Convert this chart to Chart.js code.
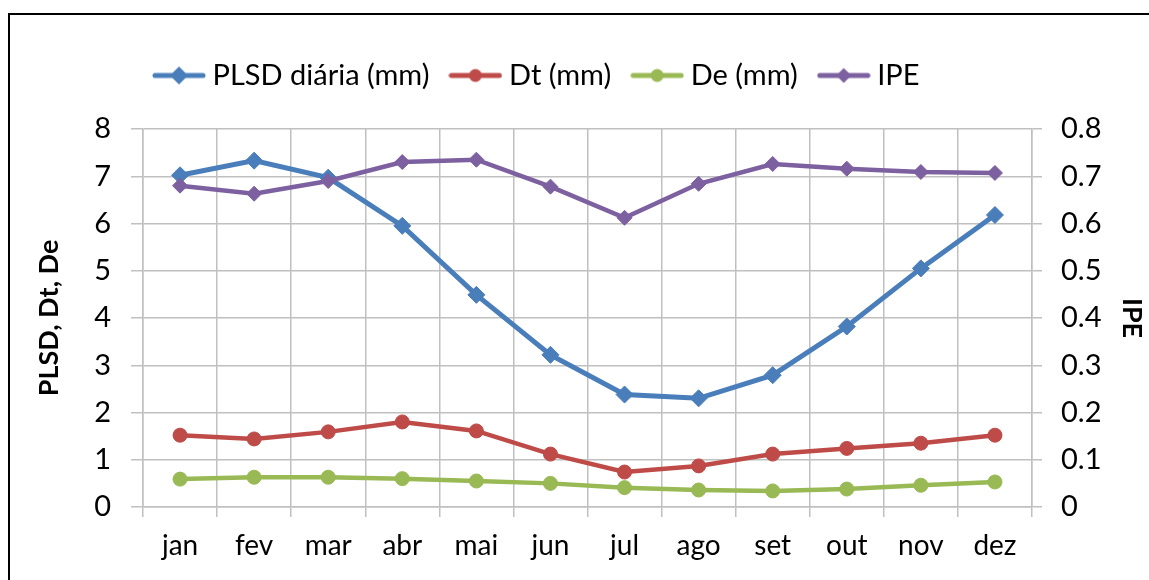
<!DOCTYPE html>
<html>
<head>
<meta charset="utf-8">
<script src="https://cdn.jsdelivr.net/npm/chart.js@4.4.1/dist/chart.umd.min.js"></script>
<style>
  html, body { margin: 0; padding: 0; background: #ffffff; }
  #wrap { width: 1149px; height: 580px; position: relative; }
</style>
</head>
<body>
<div id="wrap"><canvas id="c" width="1149" height="580"></canvas></div>
<script>
// Months on the category axis
const months = ['jan', 'fev', 'mar', 'abr', 'mai', 'jun', 'jul', 'ago', 'set', 'out', 'nov', 'dez'];

// Series (left axis, mm)
const plsd = [7.02, 7.33, 6.97, 5.95, 4.49, 3.22, 2.38, 2.30, 2.79, 3.82, 5.05, 6.18];
const dt   = [1.52, 1.44, 1.59, 1.80, 1.61, 1.12, 0.74, 0.87, 1.12, 1.24, 1.35, 1.52];
const de   = [0.59, 0.63, 0.63, 0.60, 0.55, 0.50, 0.41, 0.36, 0.34, 0.38, 0.46, 0.53];

// Series (right axis)
const ipe  = [0.680, 0.663, 0.690, 0.730, 0.735, 0.678, 0.612, 0.684, 0.726, 0.716, 0.709, 0.707];

// Tick values and labels
const leftTicks   = [0, 1, 2, 3, 4, 5, 6, 7, 8];
const leftLabels  = ['0', '1', '2', '3', '4', '5', '6', '7', '8'];
const rightTicks  = [0, 0.1, 0.2, 0.3, 0.4, 0.5, 0.6, 0.7, 0.8];
const rightLabels = ['0', '0.1', '0.2', '0.3', '0.4', '0.5', '0.6', '0.7', '0.8'];

const FONT = 'Lato';
const GRID = '#c0c0c0';
const COLORS = { blue: '#4a7ebb', red: '#be4b48', green: '#98b954', purple: '#7d60a0' };

// Legend icon: a short line with the series marker in the middle
function legendIcon(color, shape, r) {
  const cv = document.createElement('canvas');
  cv.width = 54; cv.height = 22;
  const g = cv.getContext('2d');
  g.strokeStyle = color; g.fillStyle = color;
  g.lineWidth = 5; g.lineCap = 'round';
  g.beginPath(); g.moveTo(3, 11); g.lineTo(51, 11); g.stroke();
  g.beginPath();
  if (shape === 'diamond') {
    g.moveTo(27, 11 - r); g.lineTo(27 + r, 11); g.lineTo(27, 11 + r); g.lineTo(27 - r, 11); g.closePath();
  } else {
    g.arc(27, 11, r, 0, Math.PI * 2);
  }
  g.fill();
  return cv;
}
const icons = [
  legendIcon(COLORS.blue, 'diamond', 9),
  legendIcon(COLORS.red, 'circle', 6.5),
  legendIcon(COLORS.green, 'circle', 6.5),
  legendIcon(COLORS.purple, 'diamond', 7.5)
];

// Black frame around the figure
const framePlugin = {
  id: 'frame',
  beforeDraw(chart) {
    const ctx = chart.ctx;
    ctx.save();
    ctx.fillStyle = '#ffffff';
    ctx.fillRect(0, 0, chart.width, chart.height);
    ctx.strokeStyle = '#000000';
    ctx.lineWidth = 2;
    ctx.beginPath();
    ctx.moveTo(9, chart.height + 5);
    ctx.lineTo(9, 14);
    ctx.lineTo(chart.width + 5, 14);
    ctx.stroke();
    ctx.restore();
  }
};

// Places the legend row above the plot, starting over the first category
const legendShift = {
  id: 'legendShift',
  afterLayout(chart) {
    const lg = chart.legend;
    if (!lg) return;
    const dx = 133 - lg.left;
    lg.left += dx; lg.right += dx;
    const dy = 34 - lg.top;
    lg.top += dy; lg.bottom += dy;
  }
};

new Chart(document.getElementById('c'), {
  type: 'line',
  data: {
    labels: months,
    datasets: [
      { label: 'PLSD diária (mm)', data: plsd, yAxisID: 'y', order: 4,
        borderColor: COLORS.blue, backgroundColor: COLORS.blue, borderWidth: 5,
        pointStyle: 'rectRot', pointRadius: 8.5, pointBorderWidth: 1 },
      { label: 'Dt (mm)', data: dt, yAxisID: 'y', order: 3,
        borderColor: COLORS.red, backgroundColor: COLORS.red, borderWidth: 4.5,
        pointStyle: 'circle', pointRadius: 7, pointBorderWidth: 1 },
      { label: 'De (mm)', data: de, yAxisID: 'y', order: 2,
        borderColor: COLORS.green, backgroundColor: COLORS.green, borderWidth: 4.5,
        pointStyle: 'circle', pointRadius: 7, pointBorderWidth: 1 },
      { label: 'IPE', data: ipe, yAxisID: 'y2', order: 1,
        borderColor: COLORS.purple, backgroundColor: COLORS.purple, borderWidth: 4.5,
        pointStyle: 'rectRot', pointRadius: 7.5, pointBorderWidth: 1 }
    ]
  },
  options: {
    responsive: false,
    animation: false,
    devicePixelRatio: 1,
    layout: { padding: { top: 63, left: 0, right: 0, bottom: 0 } },
    elements: { line: { tension: 0 } },
    plugins: {
      tooltip: { enabled: false },
      legend: {
        display: true,
        position: 'top',
        align: 'start',
        labels: {
          font: { family: FONT, size: 29 },
          color: '#000000',
          usePointStyle: true,
          pointStyleWidth: 38,
          padding: 27,
          sort: (a, b) => a.datasetIndex - b.datasetIndex,
          generateLabels(chart) {
            const items = Chart.defaults.plugins.legend.labels.generateLabels(chart);
            items.forEach(it => { it.pointStyle = icons[it.datasetIndex]; });
            return items;
          }
        }
      }
    },
    scales: {
      x: {
        type: 'category',
        offset: true,
        grid: { offset: true, color: GRID, lineWidth: 1.5, tickLength: 10, tickColor: GRID },
        border: { color: GRID, width: 1.5 },
        ticks: { font: { family: FONT, size: 28 }, color: '#000000', padding: 12, maxRotation: 0 },
        afterFit(scale) { scale.height = 73; }
      },
      y: {
        position: 'left',
        min: 0, max: 8,
        afterBuildTicks(scale) { scale.ticks = leftTicks.map(v => ({ value: v })); },
        ticks: {
          font: { family: FONT, size: 29 }, color: '#000000', padding: 20,
          callback: (v) => leftLabels[leftTicks.indexOf(v)]
        },
        grid: { color: GRID, lineWidth: 1.5, tickLength: 12, tickColor: GRID },
        border: { color: GRID, width: 1.5 },
        title: { display: true, text: 'PLSD, Dt, De', color: '#000000',
                 font: { family: FONT, size: 27, weight: 'bold' }, padding: { top: 33, bottom: 0 } },
        afterFit(scale) { scale.width = 143; }
      },
      y2: {
        position: 'right',
        min: 0, max: 0.8,
        afterBuildTicks(scale) { scale.ticks = rightTicks.map(v => ({ value: v })); },
        ticks: {
          font: { family: FONT, size: 29 }, color: '#000000', padding: 19,
          callback: (v) => rightLabels[rightTicks.findIndex(t => Math.abs(t - v) < 1e-9)]
        },
        grid: { drawOnChartArea: false, color: GRID, lineWidth: 1.5, tickLength: 10, tickColor: GRID },
        border: { color: GRID, width: 1.5 },
        title: { display: true, text: 'IPE', color: '#000000',
                 font: { family: FONT, size: 27, weight: 'bold' }, padding: { top: 1, bottom: 0 } },
        afterFit(scale) { scale.width = 117; }
      }
    }
  },
  plugins: [framePlugin, legendShift]
});
</script>
</body>
</html>
